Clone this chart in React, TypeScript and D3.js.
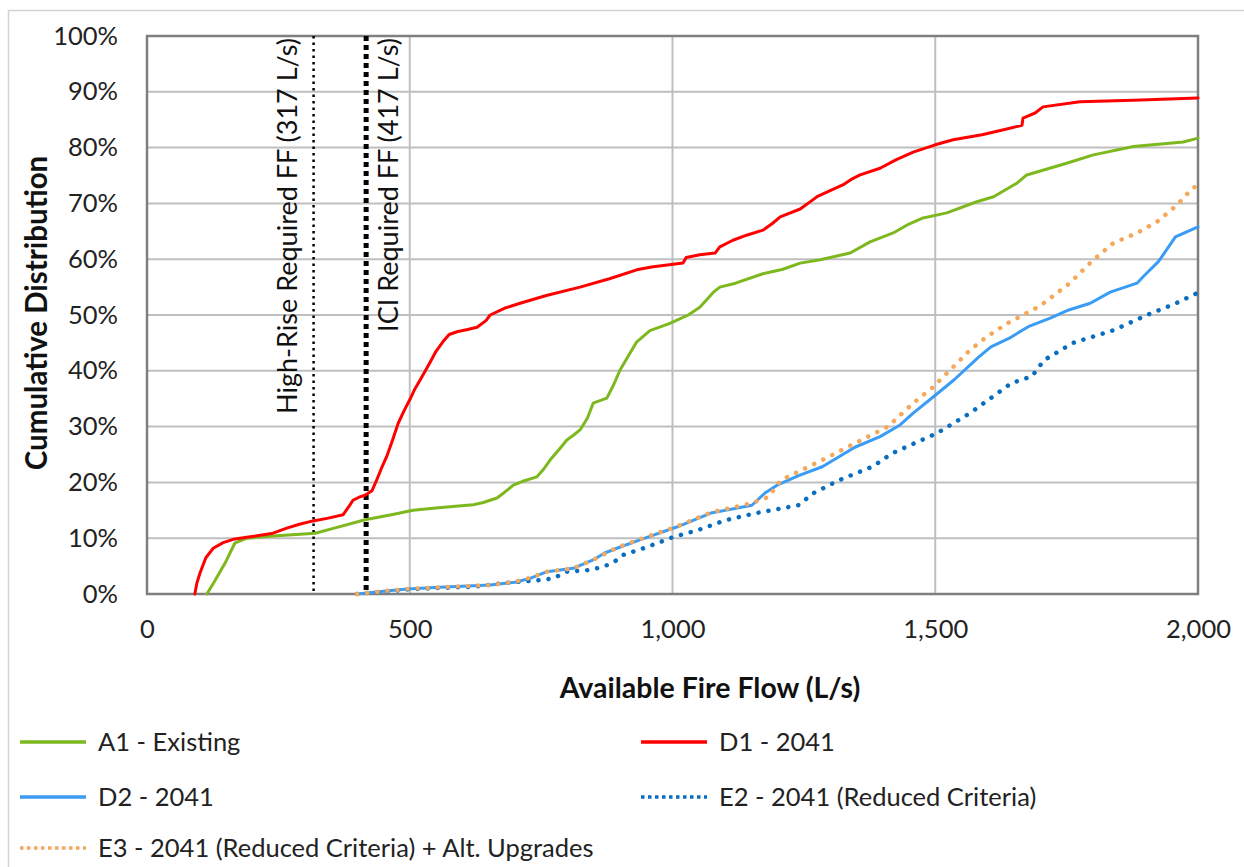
import React, { useEffect, useRef } from 'react';
import * as d3 from 'd3';

type Pt = [number, number];

// series: [available fire flow (L/s), cumulative distribution (%)]
const a1Existing: Pt[] = [
  [114, 0], [130, 2.5], [150, 5.8], [167, 9.1], [190, 10], [240, 10.4], [320, 10.9], [360, 11.9],
  [415, 13.3], [470, 14.3], [506, 15], [560, 15.5], [621, 16], [640, 16.4], [666, 17.2], [680, 18.2],
  [697, 19.5], [715, 20.2], [742, 21], [755, 22.4], [767, 24], [785, 26], [799, 27.6], [812, 28.5],
  [824, 29.4], [838, 31.5], [849, 34.2], [875, 35.1], [888, 37.5], [900, 40.1], [915, 42.5], [932, 45.2],
  [957, 47.2], [995, 48.5], [1030, 50], [1052, 51.4], [1077, 54], [1090, 55], [1120, 55.7], [1172, 57.4],
  [1210, 58.2], [1243, 59.3], [1281, 59.9], [1338, 61.1], [1376, 63.1], [1420, 64.7], [1450, 66.3],
  [1477, 67.4], [1522, 68.3], [1579, 70.3], [1611, 71.2], [1655, 73.6], [1674, 75.1], [1750, 77.2],
  [1801, 78.7], [1877, 80.2], [1972, 81], [2000, 81.7],
];

const d1Future: Pt[] = [
  [91, 0], [95, 2], [101, 3.8], [112, 6.5], [126, 8.2], [145, 9.2], [164, 9.8], [200, 10.3], [240, 10.9],
  [266, 11.8], [290, 12.5], [316, 13.1], [345, 13.6], [373, 14.2], [385, 15.8], [392, 16.8], [405, 17.4],
  [415, 17.7], [428, 18.5], [437, 20.4], [446, 22.5], [456, 24.6], [467, 27.5], [478, 30.6], [490, 33],
  [500, 34.8], [510, 36.8], [520, 38.4], [538, 41.4], [550, 43.5], [563, 45.2], [575, 46.5], [590, 47],
  [610, 47.4], [628, 47.8], [645, 49], [653, 50], [680, 51.2], [710, 52.1], [760, 53.5], [824, 55],
  [880, 56.5], [932, 58.1], [960, 58.6], [1020, 59.3], [1026, 60.3], [1052, 60.8], [1081, 61.1],
  [1090, 62.2], [1115, 63.4], [1141, 64.3], [1172, 65.2], [1190, 66.4], [1205, 67.6], [1243, 69],
  [1265, 70.5], [1275, 71.2], [1300, 72.3], [1324, 73.3], [1340, 74.3], [1357, 75.1], [1395, 76.3],
  [1425, 77.8], [1458, 79.2], [1500, 80.5], [1534, 81.4], [1589, 82.3], [1630, 83.2], [1665, 84],
  [1667, 85.3], [1690, 86.2], [1705, 87.3], [1775, 88.2], [1877, 88.5], [2000, 88.9],
];

const d2Future: Pt[] = [
  [400, 0], [450, 0.5], [495, 0.9], [557, 1.2], [653, 1.6], [700, 2.1], [729, 2.8], [761, 4], [811, 4.6],
  [849, 6.1], [870, 7.3], [894, 8.2], [938, 9.7], [1008, 12], [1073, 14.5], [1151, 15.9], [1176, 18.1],
  [1199, 19.5], [1240, 21.2], [1285, 22.8], [1347, 26.3], [1395, 28.2], [1433, 30.3], [1458, 32.4],
  [1496, 35.3], [1536, 38.4], [1583, 42.5], [1606, 44.3], [1640, 45.8], [1677, 47.9], [1720, 49.5],
  [1754, 50.9], [1795, 52.1], [1833, 54.1], [1884, 55.7], [1896, 56.9], [1925, 59.6], [1957, 64],
  [2000, 65.8],
];

const e2Reduced: Pt[] = [
  [400, 0], [495, 0.8], [560, 1.1], [621, 1.3], [684, 2], [748, 2.5], [773, 2.8], [799, 4], [843, 4.3],
  [868, 4.9], [887, 5.6], [906, 7], [951, 8.4], [1001, 10.2], [1050, 11.5], [1100, 13.2], [1159, 14.5],
  [1239, 15.9], [1269, 18.1], [1317, 20.4], [1380, 22.8], [1418, 25.2], [1460, 27], [1503, 28.8],
  [1566, 32.4], [1645, 37.8], [1684, 39], [1707, 41.9], [1762, 45], [1840, 47.3], [1903, 50],
  [1958, 52.1], [2000, 54],
];

const e3AltUpgrades: Pt[] = [
  [400, 0], [450, 0.5], [495, 0.9], [557, 1.2], [653, 1.6], [700, 2.2], [729, 2.9], [761, 4], [811, 4.6],
  [849, 6.1], [894, 8.3], [938, 9.8], [1008, 12.1], [1073, 14.6], [1151, 16.3], [1183, 17.4],
  [1206, 20.4], [1285, 24], [1347, 27], [1410, 30], [1458, 34.2], [1496, 37.1], [1528, 40.1],
  [1566, 43.7], [1598, 46.1], [1637, 48.5], [1699, 51.6], [1756, 55.7], [1801, 59.9], [1839, 62.9],
  [1884, 64.7], [1922, 66.7], [1960, 69.7], [1990, 72.8], [2000, 73.1],
];

const seriesNames = [
  'A1 - Existing',
  'D1 - 2041',
  'D2 - 2041',
  'E2 - 2041 (Reduced Criteria)',
  'E3 - 2041 (Reduced Criteria) + Alt. Upgrades',
];
const seriesData = [a1Existing, d1Future, d2Future, e2Reduced, e3AltUpgrades];

const xTicks = [0, 500, 1000, 1500, 2000];
const yTicks = [0, 10, 20, 30, 40, 50, 60, 70, 80, 90, 100];

const requiredFlows = [317, 417];
const requiredLabels = ['High-Rise Required FF (317 L/s)', 'ICI Required FF (417 L/s)'];

const styles = [
  { color: '#7DB81E', width: 3, dash: null as string | null },
  { color: '#FF0000', width: 3, dash: null },
  { color: '#3A9CF5', width: 3, dash: null },
  { color: '#0A6EC0', width: 4.5, dash: '0.1 10' },
  { color: '#F6A85A', width: 4.5, dash: '0.1 10' },
];

const FONT = 'Lato, "Open Sans", sans-serif';

function App() {
  const canvas = useRef<SVGSVGElement>(null);

  useEffect(() => {
    const width = 1244;
    const height = 867;
    const margin = { top: 36, left: 147, bottom: 273, right: 46 };
    const iwidth = width - margin.left - margin.right;
    const iheight = height - margin.top - margin.bottom;

    const svg = d3.select(canvas.current).attr('width', width).attr('height', height);
    svg.selectAll('*').remove();

    // outer chart frame (cut off at right and bottom)
    svg.append('path')
      .attr('d', `M8.5,${height} V10.5 H${width}`)
      .attr('fill', 'none')
      .attr('stroke', '#D4D4D4')
      .attr('stroke-width', 1.5);

    const g = svg.append('g').attr('transform', `translate(${margin.left},${margin.top})`);

    const x = d3.scaleLinear().domain([0, 2000]).range([0, iwidth]);
    const y = d3.scaleLinear().domain([0, 100]).range([iheight, 0]);

    // gridlines
    g.selectAll('.hgrid')
      .data(yTicks)
      .enter()
      .append('line')
      .attr('x1', 0)
      .attr('x2', iwidth)
      .attr('y1', d => y(d))
      .attr('y2', d => y(d))
      .attr('stroke', '#BFBFBF')
      .attr('stroke-width', 2);

    g.selectAll('.vgrid')
      .data(xTicks)
      .enter()
      .append('line')
      .attr('x1', d => x(d))
      .attr('x2', d => x(d))
      .attr('y1', 0)
      .attr('y2', iheight)
      .attr('stroke', '#BFBFBF')
      .attr('stroke-width', 2);

    // plot border
    g.append('rect')
      .attr('width', iwidth)
      .attr('height', iheight)
      .attr('fill', 'none')
      .attr('stroke', '#7F7F7F')
      .attr('stroke-width', 2.5);

    // axes (labels only)
    const xAxis = g.append('g')
      .attr('transform', `translate(0,${iheight})`)
      .call(d3.axisBottom(x).tickValues(xTicks).tickSize(0).tickPadding(26).tickFormat(d3.format(',')));
    const yAxis = g.append('g')
      .call(d3.axisLeft(y).tickValues(yTicks).tickSize(0).tickPadding(29).tickFormat(d => `${d}%`));
    [xAxis, yAxis].forEach(a => {
      a.select('.domain').remove();
      a.selectAll('text')
        .attr('font-family', FONT)
        .attr('font-size', 25.5)
        .attr('fill', '#222');
    });

    // required fire flow markers
    g.selectAll('.req')
      .data(requiredFlows)
      .enter()
      .append('line')
      .attr('x1', d => x(d))
      .attr('x2', d => x(d))
      .attr('y1', 0)
      .attr('y2', iheight)
      .attr('stroke', '#000')
      .attr('stroke-width', (d, i) => (i === 0 ? 2.5 : 5))
      .attr('stroke-dasharray', (d, i) => (i === 0 ? '2.5 4' : '5 4'));

    g.selectAll('.reqlabel')
      .data(requiredFlows)
      .enter()
      .append('text')
      .attr('transform', (d, i) => `translate(${x(d) + (i === 0 ? -17 : 32)},2) rotate(-90)`)
      .attr('text-anchor', 'end')
      .attr('font-family', FONT)
      .attr('font-size', 27)
      .attr('fill', '#111')
      .text((d, i) => requiredLabels[i]);

    // series
    const line = d3.line<Pt>().x(d => x(d[0])).y(d => y(d[1]));
    seriesData.forEach((s, i) => {
      const st = styles[i];
      const p = g.append('path')
        .datum(s)
        .attr('d', line)
        .attr('fill', 'none')
        .attr('stroke', st.color)
        .attr('stroke-width', st.width)
        .attr('stroke-linejoin', 'round')
        .attr('stroke-linecap', 'round');
      if (st.dash) p.attr('stroke-dasharray', st.dash);
    });

    // axis titles
    svg.append('text')
      .attr('x', 710)
      .attr('y', 698)
      .attr('text-anchor', 'middle')
      .attr('font-family', FONT)
      .attr('font-weight', 'bold')
      .attr('font-size', 28.5)
      .attr('fill', '#111')
      .text('Available Fire Flow (L/s)');

    svg.append('text')
      .attr('transform', `translate(47,${margin.top + iheight / 2 - 2}) rotate(-90)`)
      .attr('text-anchor', 'middle')
      .attr('font-family', FONT)
      .attr('font-weight', 'bold')
      .attr('font-size', 29.5)
      .attr('fill', '#111')
      .text('Cumulative Distribution');

    // legend
    const legendPos = [
      [20, 742], [641, 742], [20, 797], [641, 797], [20, 848],
    ];
    seriesNames.forEach((name, i) => {
      const st = styles[i];
      const [lx, ly] = legendPos[i];
      const l = svg.append('line')
        .attr('x1', lx)
        .attr('x2', lx + 66)
        .attr('y1', ly)
        .attr('y2', ly)
        .attr('stroke', st.color)
        .attr('stroke-width', 3.5);
      if (st.dash) l.attr('stroke-dasharray', '3.5 3.5');
      svg.append('text')
        .attr('x', lx + 78)
        .attr('y', ly + 9)
        .attr('font-family', FONT)
        .attr('font-size', 25.5)
        .attr('fill', '#222')
        .text(name);
    });
  }, []);

  return (
    <div style={{ position: 'absolute', left: 0, top: 0, background: '#fff' }}>
      <svg ref={canvas}></svg>
    </div>
  );
}

export default App;
